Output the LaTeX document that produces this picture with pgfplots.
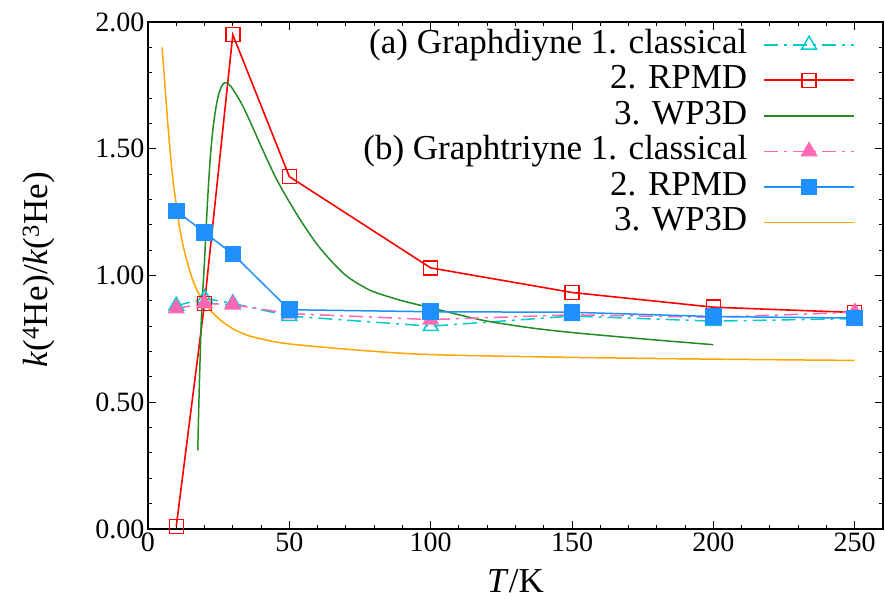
\documentclass[border=0pt]{standalone}
\usepackage{fontspec}
\setmainfont{Liberation Serif}
\usepackage{pgfplots}
\pgfplotsset{compat=1.18}

\definecolor{cyanc}{RGB}{0,204,204}
\definecolor{redc}{RGB}{255,0,0}
\definecolor{greenc}{RGB}{34,139,34}
\definecolor{pinkc}{RGB}{255,105,180}
\definecolor{bluec}{RGB}{30,144,255}
\definecolor{orangec}{RGB}{255,165,0}

\begin{document}
\begin{tikzpicture}
\begin{axis}[
    scale only axis,
    width=735pt, height=507pt,
    xmin=0, xmax=260, ymin=0, ymax=2,
    xtick={0,50,100,150,200,250}, minor x tick num=4,
    ytick={0,0.5,1,1.5,2}, minor y tick num=4,
    tick align=inside,
    major tick length=8pt, minor tick length=4pt,
    tick style={line width=1pt, black},
    axis line style={line width=1.8pt},
    clip=false,
    /pgf/number format/assume math mode=true,
    yticklabel style={/pgf/number format/.cd, fixed, fixed zerofill, precision=2},
    tick label style={font=\fontsize{28}{30}\selectfont},
    label style={font=\fontsize{35}{40}\selectfont},
    xlabel={\textit{T}/K},
    ylabel={\textit{k}(\textsuperscript{4}He)/\textit{k}(\textsuperscript{3}He)},
    xlabel style={at={([yshift=-64pt]axis description cs:0.5,0)}, anchor=base},
    ylabel style={at={([xshift=-100pt]axis description cs:0,0.511)}, anchor=base},
    legend style={at={(axis description cs:0.962,0.99)}, anchor=north east,
        draw=none, fill=none, inner sep=0pt,
        font=\fontsize{35}{35}\selectfont,
        nodes={inner sep=1pt, text height=25pt, text depth=8pt},
        column sep=15pt, row sep=0.5pt},
    legend cell align=right,
    legend plot pos=right,
    legend image code/.code={\draw[mark repeat=2,mark phase=2,#1] plot coordinates {(0pt,0pt) (45pt,0pt) (90pt,0pt)};},
]
% (a) Graphdiyne classical
\addplot[cyanc, line width=1.5pt, dash pattern=on 14pt off 6pt on 3pt off 6pt,
    mark=triangle, mark size=8.5pt, mark options={solid, line width=1.5pt}]
    coordinates {(10,0.88) (20,0.91) (30,0.89) (50,0.84) (100,0.80) (150,0.84) (200,0.82) (250,0.83)};
% (a) RPMD
\addplot[redc, line width=1.6pt, mark=square, mark size=7pt, mark options={solid, line width=1.5pt}]
    coordinates {(10,0.01) (20,0.89) (30,1.95) (50,1.39) (100,1.03) (150,0.933) (200,0.875) (250,0.854)};
% (a) WP3D
\addplot[greenc, line width=1.5pt, smooth, tension=0.5]
    coordinates {(17.6,0.31) (18,0.50) (18.5,0.70) (19,0.86) (20,1.06) (21,1.28) (22,1.46)
    (23,1.58) (24,1.66) (25,1.715) (26,1.745) (27,1.76) (28,1.76) (29,1.75) (30,1.735)
    (33,1.68) (36,1.61) (40,1.51) (45,1.39) (50,1.29) (55,1.20) (60,1.12) (65,1.055)
    (70,1.00) (75,0.963) (80,0.935) (90,0.90) (100,0.873) (110,0.845) (120,0.82)
    (135,0.794) (150,0.775) (175,0.75) (200,0.727)};
% (b) Graphtriyne classical
\addplot[pinkc, line width=1.5pt, dash pattern=on 14pt off 6pt on 3pt off 6pt,
    mark=triangle*, mark size=8.5pt, mark options={solid, fill=pinkc}]
    coordinates {(10,0.87) (20,0.89) (30,0.885) (50,0.85) (100,0.826) (150,0.845) (200,0.835) (250,0.855)};
% (b) RPMD
\addplot[bluec, line width=1.5pt, mark=square*, mark size=7.5pt, mark options={solid, fill=bluec}]
    coordinates {(10,1.255) (20,1.17) (30,1.085) (50,0.865) (100,0.857) (150,0.855) (200,0.838) (250,0.832)};
% (b) WP3D
\addplot[orangec, line width=1.5pt, smooth, tension=0.5]
    coordinates {(5,1.90) (6,1.75) (7,1.60) (8,1.47) (9,1.36) (10,1.28) (11,1.20) (12,1.14)
    (13,1.09) (15,1.01) (17,0.95) (20,0.89) (25,0.83) (30,0.79) (35,0.765) (40,0.75)
    (50,0.73) (75,0.705) (100,0.688) (150,0.677) (200,0.67) (250,0.665)};
\legend{(a) Graphdiyne 1. classical, 2. RPMD, 3. WP3D, (b) Graphtriyne 1. classical, 2. RPMD, 3. WP3D}
\end{axis}
\pgfresetboundingbox
\path[use as bounding box] (-148pt,-72pt) rectangle (737pt,529pt);
\end{tikzpicture}
\end{document}
